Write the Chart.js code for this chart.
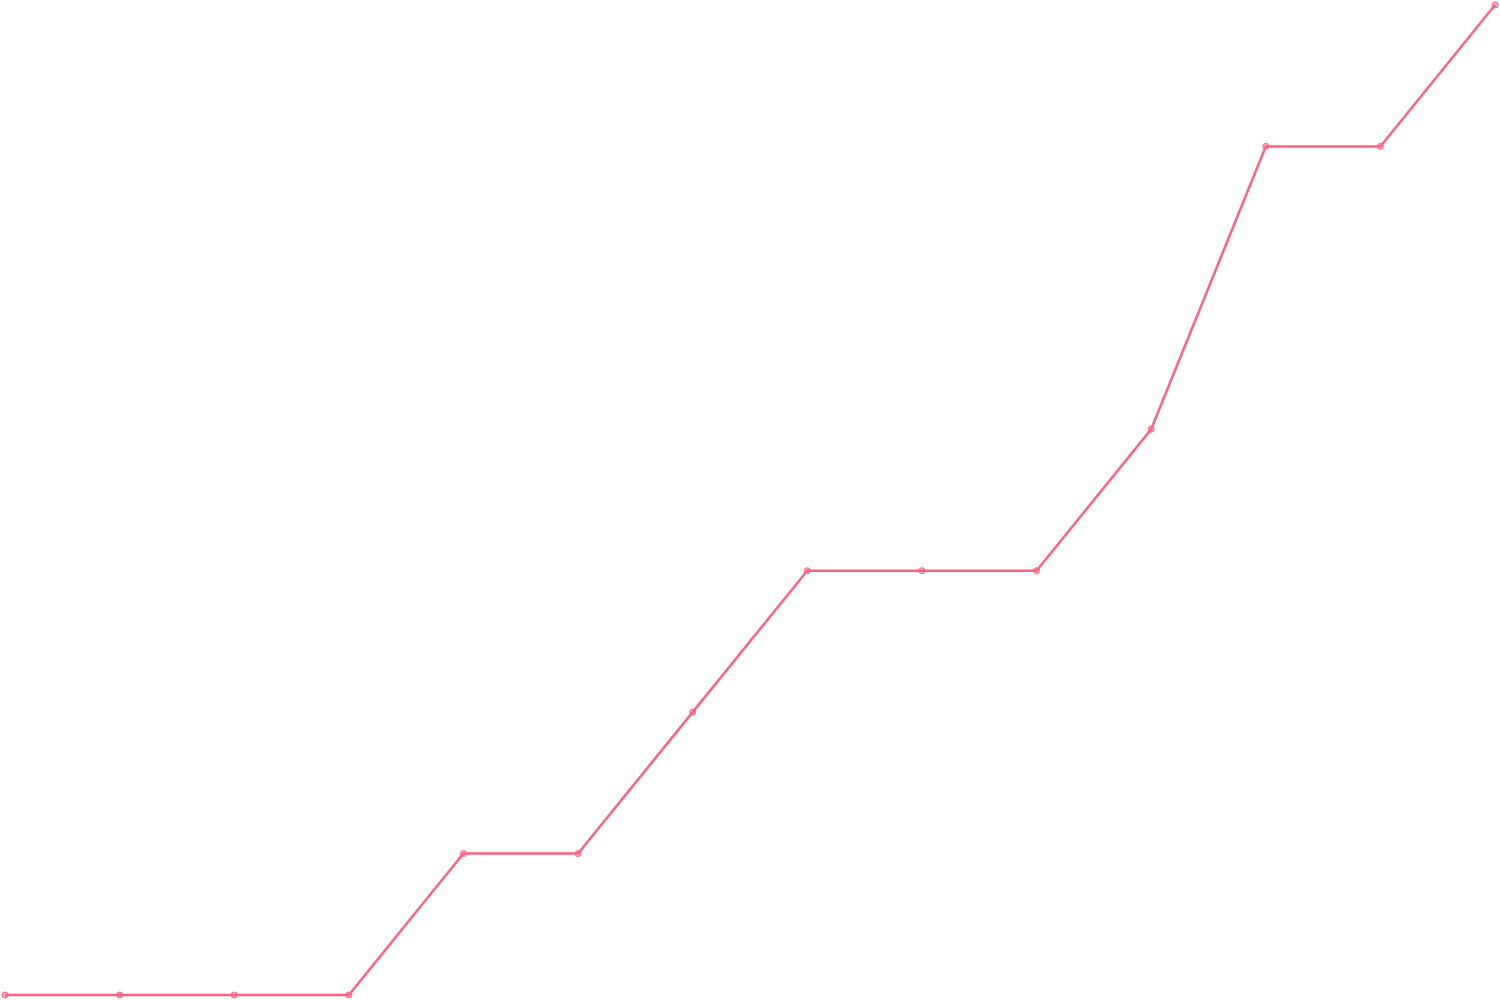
<!DOCTYPE html>
<html><head><meta charset="utf-8">
<script src="https://cdn.jsdelivr.net/npm/chart.js@4"></script>
<style>html,body{margin:0;padding:0;background:#fff;overflow:hidden}canvas{display:block}</style>
</head><body><canvas id="c" width="1500" height="1000" style="width:1500px;height:1000px"></canvas>
<script>
const labels = ["1","2","3","4","5","6","7","8","9","10","11","12","13","14"];
const values = [0,0,0,0,1,1,2,3,3,3,4,6,6,7];
new Chart(document.getElementById('c'), {
  type: 'line',
  data: { labels: labels, datasets: [{
    data: values,
    borderColor: 'rgb(255,99,132)',
    backgroundColor: 'rgba(255,99,132,0.5)',
    borderWidth: 2.5,
    pointRadius: 3,
    pointBorderWidth: 1,
    tension: 0,
    clip: false
  }]},
  options: {
    responsive: false, animation: false, devicePixelRatio: 1,
    layout: { padding: 5 },
    plugins: { legend: { display: false }, tooltip: { enabled: false } },
    scales: { x: { display: false }, y: { display: false, min: 0, max: 7 } }
  }
});
</script></body></html>
